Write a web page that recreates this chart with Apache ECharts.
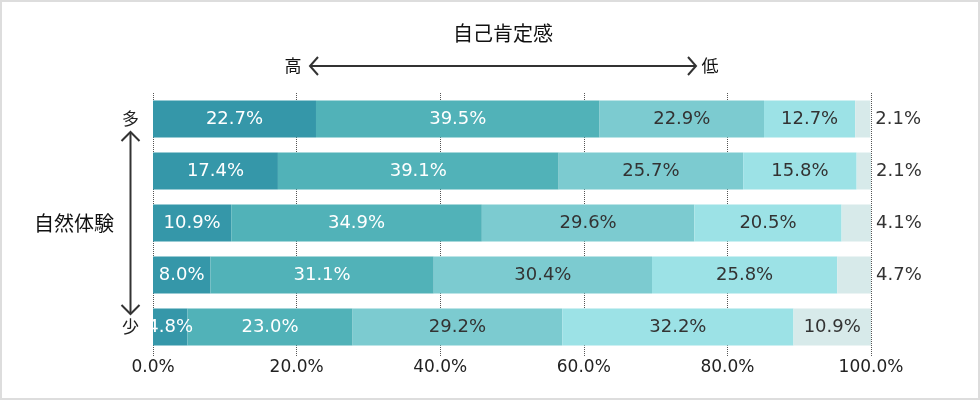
<!DOCTYPE html>
<html>
<head>
<meta charset="utf-8">
<script src="https://cdn.jsdelivr.net/npm/echarts@6/dist/echarts.min.js"></script>
<style>
html,body{margin:0;padding:0;background:#fff;}
#chart{width:980px;height:400px;}
</style>
</head>
<body>
<div id="chart"></div>
<script>
// ---- data ----
const rowLabels = ['多', '', '', '', '少'];
const rowIds = ['r1', 'r2', 'r3', 'r4', 'r5'];
const level1 = [22.7, 17.4, 10.9, 8.0, 4.8];
const level2 = [39.5, 39.1, 34.9, 31.1, 23.0];
const level3 = [22.9, 25.7, 29.6, 30.4, 29.2];
const level4 = [12.7, 15.8, 20.5, 25.8, 32.2];
const level5 = [2.1, 2.1, 4.1, 4.7, 10.9];
const xTicks = [0, 20, 40, 60, 80, 100];
const titleText = '自己肯定感';
const highText = '高';
const lowText = '低';
const yTitle = '自然体験';

const colors = ['#3597a9', '#51b2b8', '#7ccbd0', '#9ce2e6', '#d7eaea'];
const labelColors = ['#fff', '#fff', '#333', '#333', '#333'];
const levels = [level1, level2, level3, level4, level5];
const numFont = '"DejaVu Sans", sans-serif';
const cjkFont = '"Noto Sans CJK JP", sans-serif';

const series = levels.map((arr, si) => ({
  type: 'bar',
  stack: 'total',
  barWidth: 37,
  itemStyle: { color: colors[si] },
  label: {
    show: true,
    position: 'inside',
    color: labelColors[si],
    fontSize: 18,
    fontFamily: numFont,
    formatter: p => p.value.toFixed(1) + '%'
  },
  data: arr.map(v => (si === 4 && v < 5)
    ? { value: v, label: { position: 'right', distance: 5, color: '#333' } }
    : v)
}));

const chart = echarts.init(document.getElementById('chart'), null, { renderer: 'canvas' });
const arrowStyle = { stroke: '#333', lineWidth: 2, fill: null };
chart.setOption({
  animation: false,
  grid: { left: 153, right: 109, top: 93, height: 260, containLabel: false },
  xAxis: {
    type: 'value', min: xTicks[0], max: xTicks[xTicks.length - 1], interval: 20,
    axisLine: { show: false },
    axisTick: { show: true, inside: false, length: 3, lineStyle: { color: '#555', type: [1, 1] } },
    splitLine: { show: true, lineStyle: { color: '#555', type: [1, 1], width: 1 } },
    axisLabel: { color: '#222', fontSize: 17, fontFamily: numFont, margin: 6,
      formatter: v => v.toFixed(1) + '%' }
  },
  yAxis: {
    type: 'category', data: rowIds, inverse: true,
    axisLine: { show: false }, axisTick: { show: false }, splitLine: { show: false },
    axisLabel: { margin: 14, color: '#222', fontSize: 17, fontFamily: cjkFont,
      formatter: (v, i) => rowLabels[i] }
  },
  series: series,
  graphic: [
    { type: 'rect', shape: { x: 1, y: 1, width: 978, height: 398 }, style: { stroke: '#ddd', lineWidth: 2, fill: null }, silent: true },
    { type: 'text', x: 503, y: 33, style: { text: titleText, fontSize: 20, fontFamily: cjkFont, fill: '#111', align: 'center', verticalAlign: 'middle' } },
    { type: 'text', x: 293, y: 66, style: { text: highText, fontSize: 17, fontFamily: cjkFont, fill: '#111', align: 'center', verticalAlign: 'middle' } },
    { type: 'text', x: 710, y: 66, style: { text: lowText, fontSize: 17, fontFamily: cjkFont, fill: '#111', align: 'center', verticalAlign: 'middle' } },
    { type: 'text', x: 74, y: 223, style: { text: yTitle, fontSize: 20, fontFamily: cjkFont, fill: '#111', align: 'center', verticalAlign: 'middle' } },
    { type: 'line', shape: { x1: 310, y1: 66, x2: 696, y2: 66 }, style: arrowStyle },
    { type: 'polyline', shape: { points: [[318, 57], [310, 66], [318, 75]] }, style: arrowStyle },
    { type: 'polyline', shape: { points: [[688, 57], [696, 66], [688, 75]] }, style: arrowStyle },
    { type: 'line', shape: { x1: 130.5, y1: 132, x2: 130.5, y2: 314 }, style: arrowStyle },
    { type: 'polyline', shape: { points: [[121.5, 141], [130.5, 132], [139.5, 141]] }, style: arrowStyle },
    { type: 'polyline', shape: { points: [[121.5, 305], [130.5, 314], [139.5, 305]] }, style: arrowStyle }
  ]
});
</script>
</body>
</html>
